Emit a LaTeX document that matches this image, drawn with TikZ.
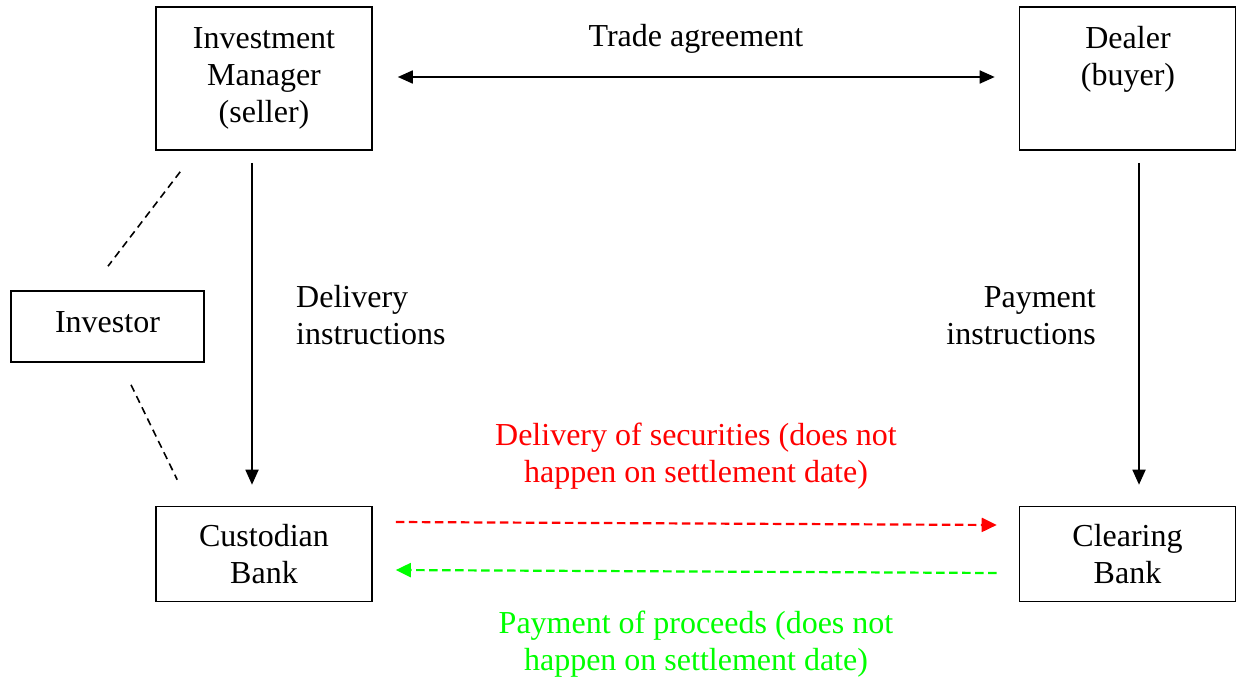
\documentclass[tikz,border=0pt]{standalone}
\usepackage{fontspec}
\setmainfont{Liberation Serif}
\usetikzlibrary{arrows.meta,calc}
\definecolor{pured}{RGB}{255,0,0}
\definecolor{pugreen}{RGB}{0,255,0}
\begin{document}
\begin{tikzpicture}[x=1pt,y=-1pt,
  every node/.style={font=\fontsize{32}{37}\selectfont, inner sep=0pt},
  box/.style={draw, line width=1.6pt, align=center, minimum width=216pt},
  txt/.style={align=center},
  solidarrow/.style={line width=1.8pt, -{Triangle[length=15pt,width=13pt]}},
  dasharrow/.style={line width=2.2pt, dash pattern=on 8.5pt off 4.5pt, -{Triangle[length=15pt,width=14pt]}},
  thindash/.style={line width=1.6pt, dash pattern=on 7.5pt off 5pt}]
\useasboundingbox[fill=white] (0,0) rectangle (1238,682);
% boxes
\node[box, minimum height=143pt] (im) at (264,78.5) {Investment\\Manager\\(seller)};
\node[box, minimum height=143pt] (dealer) at (1127.5,78.5) {};
\node[txt] (dealertxt) at (1128,59) {Dealer\\(buyer)};
\node[box, minimum width=193pt, minimum height=71pt] (inv) at (107.5,326.5) {};
\node[txt] (invtxt) at (107.5,322.5) {Investor};
\node[box, minimum height=95pt] (cust) at (264,554) {Custodian\\Bank};
\node[box, minimum height=95pt] (clear) at (1127.5,554) {Clearing\\Bank};
% labels
\node[txt] (trade) at (696,39) {Trade agreement};
\node[align=left, anchor=west] (delins) at (296,315) {Delivery\\instructions};
\node[align=right, anchor=east] (payins) at (1096,315.5) {Payment\\instructions};
\node[txt, text=pured] (redtxt) at (696,456.5) {Delivery of securities (does not\\happen on settlement date)};
\node[txt, text=pugreen] (greentxt) at (696,644.5) {Payment of proceeds (does not\\happen on settlement date)};
% connectors
\draw[line width=1.8pt, {Triangle[length=15pt,width=13pt]}-{Triangle[length=15pt,width=13pt]}]
  ($(im.east)+(25,-1.5)$) -- ($(dealer.west)+(-24,-1.5)$);
\draw[solidarrow] ($(im.south)+(-12,12)$) -- ($(cust.north)+(-12,-21)$);
\draw[solidarrow] ($(dealer.south)+(11.5,12)$) -- ($(clear.north)+(11.5,-21)$);
\draw[dasharrow, pured] ($(cust.east)+(23,-32)$) -- ($(clear.west)+(-22,-29)$);
\draw[dasharrow, pugreen] ($(clear.west)+(-22,19)$) -- ($(cust.east)+(23,16)$);
\draw[thindash] ($(im.south west)+(25,21)$) -- ($(inv.north)+(0.5,-24)$);
\draw[thindash] ($(inv.south)+(23.5,22)$) -- ($(cust.north west)+(22,-26)$);
\end{tikzpicture}
\end{document}
